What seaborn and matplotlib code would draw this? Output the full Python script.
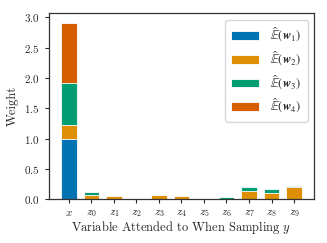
"""Stacked attention weights per attended variable (four expectation terms)."""

import matplotlib.pyplot as plt
import pandas as pd
import seaborn as sns
from matplotlib.font_manager import FontProperties

VARIABLES = ["$x$"] + [f"$z_{i}$" for i in range(10)]
W1 = [1.00, 0.00, 0.00, 0.00, 0.00, 0.00, 0.00, 0.00, 0.00, 0.00, 0.00]
W2 = [0.22, 0.07, 0.05, 0.00, 0.065, 0.05, 0.00, 0.00, 0.13, 0.11, 0.20]
W3 = [0.70, 0.05, 0.00, 0.00, 0.00, 0.00, 0.00, 0.03, 0.065, 0.055, 0.025]
W4 = [0.99, 0.00, 0.00, 0.00, 0.00, 0.00, 0.00, 0.00, 0.00, 0.00, 0.00]

LABELS = [r"$\hat{\mathbb{E}}(\boldsymbol{w}_%d)$" % i for i in range(1, 5)]
COLORS = sns.color_palette("colorblind", 4)
OUTPUT = "out.png"


def apply_style():
    sns.set_theme(style="ticks")
    plt.rcParams["font.family"] = "serif"
    plt.rcParams["font.serif"] = ["cmr10", "DejaVu Serif"]
    plt.rcParams["mathtext.fontset"] = "cm"
    plt.rcParams["axes.formatter.use_mathtext"] = True
    plt.rcParams["axes.unicode_minus"] = False


def plot():
    df = pd.DataFrame({"Variable": VARIABLES, "w1": W1, "w2": W2, "w3": W3, "w4": W4})
    cols = ["w1", "w2", "w3", "w4"]
    cum = df[cols].cumsum(axis=1)

    fig, ax = plt.subplots(figsize=(3.27, 2.43), dpi=100)
    # draw cumulative totals from the top layer down so each stack segment shows
    for i in reversed(range(4)):
        sns.barplot(
            x=df["Variable"], y=cum[cols[i]], color=COLORS[i], width=0.7,
            edgecolor="white", linewidth=0.6, saturation=1, label=LABELS[i], ax=ax,
        )
    ax.set_xlim(-0.885, 10.885)
    ax.set_ylim(0, 3.066)
    ax.set_xlabel("Variable Attended to When Sampling $y$", fontsize=9, labelpad=0)
    ax.set_ylabel("Weight", fontsize=9)
    ax.tick_params(labelsize=8, length=3, width=0.8)
    for s in ax.spines.values():
        s.set_visible(True)
        s.set_linewidth(0.9)
        s.set_color("#333333")

    handles, labels = ax.get_legend_handles_labels()
    prop = FontProperties(family="serif", size=9, math_fontfamily="stix")
    ax.legend(handles[::-1], labels[::-1], loc="upper right", prop=prop,
              handlelength=2.2, borderpad=0.5, labelspacing=0.45, handletextpad=0.9)

    fig.subplots_adjust(left=0.15, right=0.96, top=0.945, bottom=0.18)
    fig.savefig(OUTPUT, dpi=100)


def main():
    apply_style()
    plot()


if __name__ == "__main__":
    main()
